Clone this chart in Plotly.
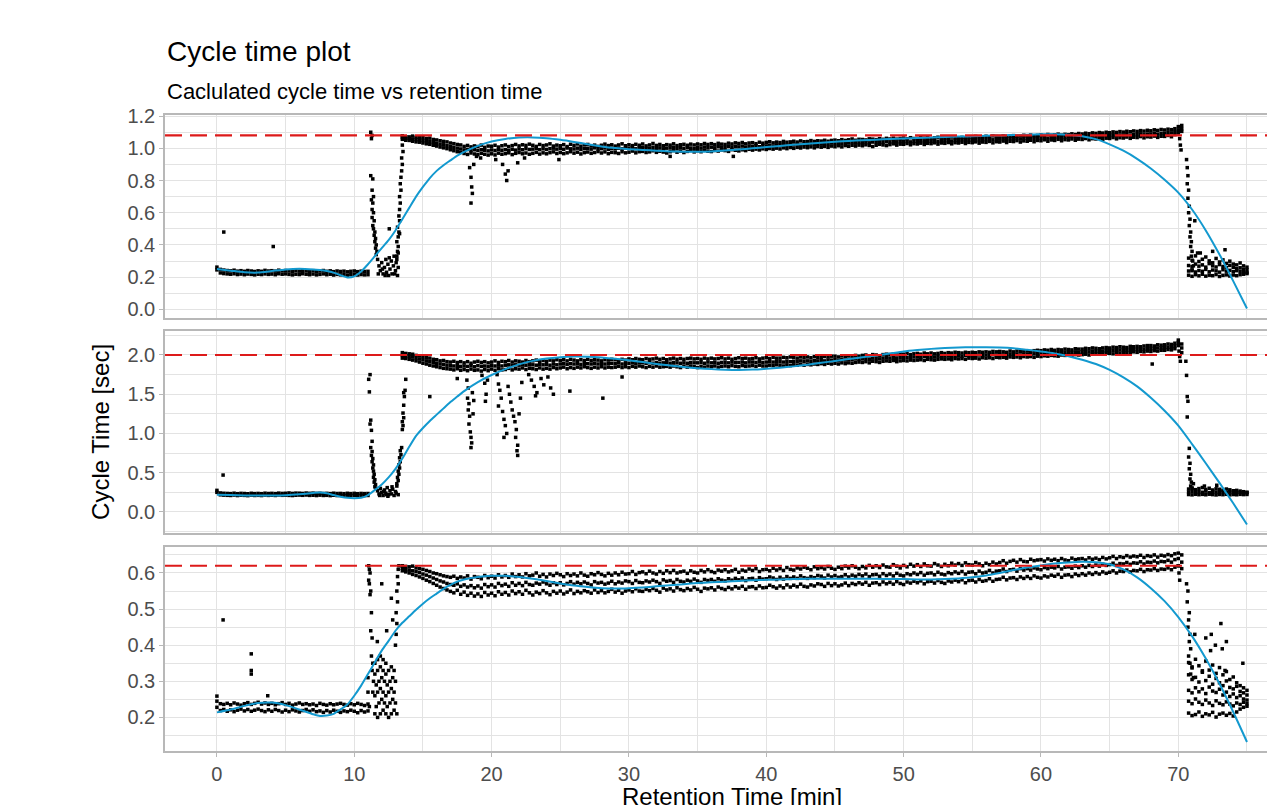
import plotly.graph_objects as go

# ---------------- retention-time grids (min) ----------------
rt_base = [0, 0.25, 0.5, 0.75, 1, 1.25, 1.5, 1.75, 2, 2.25, 2.5, 2.75, 3, 3.25, 3.5, 3.75,
           4, 4.25, 4.5, 4.75, 5, 5.25, 5.5, 5.75, 6, 6.25, 6.5, 6.75, 7, 7.25, 7.5, 7.75,
           8, 8.25, 8.5, 8.75, 9, 9.25, 9.5, 9.75, 10, 10.25, 10.5, 10.75, 11]

rt_plateau = [13.5, 13.75,
    14, 14.25, 14.5, 14.75, 15, 15.25, 15.5, 15.75, 16, 16.25, 16.5, 16.75, 17, 17.25, 17.5, 17.75, 18, 18.25, 18.5, 18.75,
    19, 19.25, 19.5, 19.75, 20, 20.25, 20.5, 20.75, 21, 21.25, 21.5, 21.75, 22, 22.25, 22.5, 22.75, 23, 23.25, 23.5, 23.75,
    24, 24.25, 24.5, 24.75, 25, 25.25, 25.5, 25.75, 26, 26.25, 26.5, 26.75, 27, 27.25, 27.5, 27.75, 28, 28.25, 28.5, 28.75,
    29, 29.25, 29.5, 29.75, 30, 30.25, 30.5, 30.75, 31, 31.25, 31.5, 31.75, 32, 32.25, 32.5, 32.75, 33, 33.25, 33.5, 33.75,
    34, 34.25, 34.5, 34.75, 35, 35.25, 35.5, 35.75, 36, 36.25, 36.5, 36.75, 37, 37.25, 37.5, 37.75, 38, 38.25, 38.5, 38.75,
    39, 39.25, 39.5, 39.75, 40, 40.25, 40.5, 40.75, 41, 41.25, 41.5, 41.75, 42, 42.25, 42.5, 42.75, 43, 43.25, 43.5, 43.75,
    44, 44.25, 44.5, 44.75, 45, 45.25, 45.5, 45.75, 46, 46.25, 46.5, 46.75, 47, 47.25, 47.5, 47.75, 48, 48.25, 48.5, 48.75,
    49, 49.25, 49.5, 49.75, 50, 50.25, 50.5, 50.75, 51, 51.25, 51.5, 51.75, 52, 52.25, 52.5, 52.75, 53, 53.25, 53.5, 53.75,
    54, 54.25, 54.5, 54.75, 55, 55.25, 55.5, 55.75, 56, 56.25, 56.5, 56.75, 57, 57.25, 57.5, 57.75, 58, 58.25, 58.5, 58.75,
    59, 59.25, 59.5, 59.75, 60, 60.25, 60.5, 60.75, 61, 61.25, 61.5, 61.75, 62, 62.25, 62.5, 62.75, 63, 63.25, 63.5, 63.75,
    64, 64.25, 64.5, 64.75, 65, 65.25, 65.5, 65.75, 66, 66.25, 66.5, 66.75, 67, 67.25, 67.5, 67.75, 68, 68.25, 68.5, 68.75,
    69, 69.25, 69.5, 69.75, 70, 70.25]

rt_tail = [70.75, 71, 71.25, 71.5, 71.75, 72, 72.25, 72.5, 72.75, 73, 73.25, 73.5, 73.75, 74, 74.25, 74.5, 74.75, 75]

# ---------------- panel 1 cycle times (sec) ----------------
p1_base_hi = [0.262, 0.248, 0.244, 0.241, 0.239, 0.243, 0.237, 0.240, 0.236, 0.241, 0.238, 0.235,
              0.239, 0.236, 0.242, 0.238, 0.240, 0.237, 0.243, 0.239, 0.241, 0.238, 0.236, 0.240,
              0.237, 0.242, 0.239, 0.236, 0.240, 0.235, 0.238, 0.241, 0.236, 0.239, 0.234, 0.238,
              0.235, 0.237, 0.233, 0.236, 0.238, 0.234, 0.237, 0.235, 0.236]
p1_base_lo = [0.245, 0.226, 0.222, 0.220, 0.218, 0.221, 0.216, 0.219, 0.215, 0.219, 0.217, 0.214,
              0.218, 0.216, 0.220, 0.217, 0.219, 0.215, 0.221, 0.218, 0.220, 0.217, 0.214, 0.218,
              0.216, 0.221, 0.218, 0.215, 0.219, 0.214, 0.217, 0.220, 0.215, 0.218, 0.213, 0.217,
              0.214, 0.216, 0.212, 0.215, 0.217, 0.213, 0.216, 0.214, 0.215]
p1_plat_hi = [1.078, 1.072,
    1.071, 1.076, 1.068, 1.070, 1.066, 1.061, 1.063, 1.055, 1.052, 1.047, 1.043, 1.040, 1.033, 1.029, 1.024, 1.021, 1.012, 1.018, 1.009, 1.015,
    1.011, 1.020, 1.006, 1.014, 1.013, 1.019, 1.008, 1.016, 1.021, 1.011, 1.017, 1.024, 1.015, 1.022, 1.018, 1.026, 1.019, 1.012, 1.024, 1.017,
    1.021, 1.028, 1.014, 1.020, 1.016, 1.023, 1.011, 1.025, 1.018, 1.027, 1.013, 1.021, 1.024, 1.015, 1.020, 1.012, 1.019, 1.026, 1.017, 1.022,
    1.014, 1.021, 1.028, 1.016, 1.022, 1.017, 1.025, 1.019, 1.027, 1.015, 1.021, 1.030, 1.018, 1.024, 1.016, 1.023, 1.020, 1.028, 1.017, 1.022,
    1.025, 1.019, 1.026, 1.021, 1.027, 1.022, 1.030, 1.024, 1.029, 1.023, 1.031, 1.026, 1.024, 1.032, 1.027, 1.034, 1.030, 1.036, 1.028, 1.033,
    1.035, 1.029, 1.038, 1.032, 1.037, 1.041, 1.034, 1.039, 1.036, 1.043, 1.038, 1.040, 1.044, 1.039, 1.046, 1.041, 1.042, 1.048, 1.043, 1.047,
    1.045, 1.050, 1.044, 1.049, 1.051, 1.047, 1.054, 1.049, 1.053, 1.058, 1.050, 1.056, 1.055, 1.052, 1.059, 1.057, 1.054, 1.060, 1.056, 1.062,
    1.058, 1.063, 1.057, 1.061, 1.064, 1.059, 1.066, 1.061, 1.062, 1.068, 1.063, 1.066, 1.060, 1.065, 1.069, 1.064, 1.067, 1.062, 1.070, 1.065,
    1.063, 1.068, 1.066, 1.071, 1.069, 1.074, 1.067, 1.072, 1.075, 1.070, 1.077, 1.073, 1.071, 1.078, 1.074, 1.076, 1.079, 1.073, 1.077, 1.081,
    1.076, 1.082, 1.078, 1.080, 1.083, 1.079, 1.086, 1.081, 1.084, 1.088, 1.082, 1.087, 1.085, 1.090, 1.086, 1.092, 1.089, 1.094, 1.091, 1.096,
    1.093, 1.098, 1.095, 1.100, 1.097, 1.102, 1.099, 1.104, 1.101, 1.106, 1.103, 1.108, 1.105, 1.110, 1.107, 1.112, 1.109, 1.115, 1.111, 1.117,
    1.114, 1.119, 1.116, 1.122, 1.135, 1.142]
p1_plat_mid = [1.067, 1.061,
    1.060, 1.057, 1.054, 1.053, 1.049, 1.045, 1.041, 1.036, 1.031, 1.026, 1.022, 1.016, 1.011, 1.006, 1.001, 0.996, 0.990, 0.993, 0.987, 0.991,
    0.986, 0.992, 0.988, 0.984, 0.990, 0.986, 0.993, 0.988, 0.992, 0.987, 0.994, 0.989, 0.996, 0.991, 0.998, 0.993, 0.995, 0.999, 0.992, 0.997,
    0.993, 0.998, 1.001, 0.995, 0.999, 0.994, 1.002, 0.997, 0.996, 1.001, 0.993, 0.998, 1.000, 0.995, 1.003, 0.997, 0.998, 1.002, 0.994, 1.000,
    0.996, 1.001, 0.997, 1.003, 1.000, 1.004, 0.997, 1.002, 1.004, 0.998, 1.001, 1.006, 0.999, 1.003, 0.997, 1.001, 1.002, 1.006, 0.999, 1.004,
    1.000, 1.005, 1.002, 0.998, 1.006, 1.001, 1.008, 1.004, 1.007, 1.003, 1.010, 1.006, 1.005, 1.011, 1.008, 1.012, 1.009, 1.014, 1.007, 1.013,
    1.012, 1.016, 1.010, 1.018, 1.015, 1.019, 1.014, 1.021, 1.018, 1.023, 1.017, 1.022, 1.021, 1.026, 1.020, 1.025, 1.024, 1.028, 1.022, 1.029,
    1.026, 1.031, 1.025, 1.033, 1.030, 1.034, 1.028, 1.036, 1.033, 1.038, 1.032, 1.037, 1.035, 1.040, 1.034, 1.039, 1.037, 1.042, 1.036, 1.041,
    1.039, 1.044, 1.038, 1.043, 1.041, 1.046, 1.040, 1.045, 1.043, 1.048, 1.042, 1.047, 1.045, 1.050, 1.044, 1.049, 1.047, 1.052, 1.046, 1.051,
    1.049, 1.054, 1.048, 1.053, 1.052, 1.057, 1.050, 1.056, 1.054, 1.059, 1.053, 1.058, 1.057, 1.062, 1.055, 1.060, 1.060, 1.064, 1.058, 1.063,
    1.062, 1.067, 1.061, 1.066, 1.065, 1.070, 1.063, 1.068, 1.067, 1.072, 1.066, 1.071, 1.070, 1.075, 1.069, 1.074, 1.073, 1.078, 1.072, 1.077,
    1.076, 1.081, 1.075, 1.080, 1.079, 1.084, 1.078, 1.083, 1.082, 1.087, 1.081, 1.086, 1.085, 1.090, 1.084, 1.089, 1.089, 1.094, 1.088, 1.093,
    1.093, 1.098, 1.096, 1.104, 1.115, 1.122]
p1_plat_lo = [1.056, 1.050,
    1.049, 1.044, 1.040, 1.038, 1.033, 1.028, 1.025, 1.019, 1.014, 1.008, 1.003, 0.998, 0.991, 0.985, 0.979, 0.975, 0.968, 0.962, 0.971, 0.965,
    0.960, 0.969, 0.963, 0.958, 0.966, 0.959, 0.970, 0.963, 0.967, 0.972, 0.961, 0.969, 0.974, 0.966, 0.971, 0.963, 0.969, 0.975, 0.964, 0.972,
    0.966, 0.973, 0.978, 0.968, 0.974, 0.967, 0.972, 0.979, 0.970, 0.976, 0.965, 0.973, 0.977, 0.969, 0.974, 0.980, 0.971, 0.978, 0.967, 0.975,
    0.973, 0.968, 0.979, 0.972, 0.976, 0.983, 0.972, 0.979, 0.981, 0.974, 0.978, 0.985, 0.975, 0.982, 0.977, 0.971, 0.979, 0.986, 0.976, 0.983,
    0.974, 0.981, 0.987, 0.978, 0.985, 0.979, 0.988, 0.982, 0.980, 0.987, 0.983, 0.990, 0.986, 0.981, 0.992, 0.988, 0.984, 0.991, 0.986, 0.994,
    0.989, 0.995, 0.990, 0.997, 0.993, 0.999, 0.995, 1.001, 0.996, 1.003, 0.998, 1.005, 1.000, 1.006, 1.002, 1.008, 1.004, 1.009, 1.003, 1.011,
    1.007, 1.012, 1.006, 1.014, 1.010, 1.016, 1.009, 1.017, 1.013, 1.019, 1.014, 1.020, 1.016, 1.022, 1.018, 1.011, 1.019, 1.025, 1.021, 1.017,
    1.023, 1.028, 1.020, 1.026, 1.025, 1.030, 1.022, 1.029, 1.027, 1.032, 1.024, 1.031, 1.029, 1.034, 1.026, 1.033, 1.031, 1.036, 1.028, 1.035,
    1.033, 1.038, 1.030, 1.037, 1.035, 1.040, 1.032, 1.039, 1.037, 1.043, 1.034, 1.041, 1.039, 1.045, 1.036, 1.044, 1.042, 1.048, 1.039, 1.046,
    1.044, 1.050, 1.041, 1.049, 1.047, 1.053, 1.044, 1.052, 1.049, 1.056, 1.047, 1.054, 1.052, 1.058, 1.050, 1.057, 1.055, 1.061, 1.053, 1.060,
    1.058, 1.064, 1.056, 1.063, 1.061, 1.067, 1.059, 1.066, 1.064, 1.070, 1.062, 1.069, 1.067, 1.073, 1.065, 1.072, 1.070, 1.076, 1.068, 1.075,
    1.074, 1.080, 1.072, 1.085, 1.095, 1.105]
p1_tail_a = [0.212, 0.205, 0.215, 0.208, 0.218, 0.206, 0.212, 0.209, 0.216, 0.204, 0.211, 0.214, 0.207, 0.213, 0.209, 0.215, 0.218, 0.222]
p1_tail_b = [0.238, 0.245, 0.232, 0.241, 0.236, 0.248, 0.233, 0.244, 0.239, 0.231, 0.246, 0.237, 0.242, 0.234, 0.240, 0.236, 0.232, 0.228]
p1_tail_c = [0.272, 0.265, 0.281, 0.268, 0.276, 0.262, 0.284, 0.270, 0.263, 0.278, 0.266, 0.259, 0.273, 0.261, 0.252, 0.258, 0.249, 0.245]
p1_tail_d = [0.318, 0.305, 0.332, 0.297, 0.311, 0.325, 0.301, 0.289, 0.316, 0.294, 0.307, 0.285, 0.299, 0.281, 0.276, 0.288, 0.270, 0.262]
p1_extra_rt = [0.5, 4.1,
    11.2, 11.25, 11.3, 11.2, 11.35, 11.3, 11.4, 11.25, 11.35, 11.3, 11.4, 11.3, 11.45, 11.35, 11.4, 11.5, 11.45, 11.55, 11.5, 11.6, 11.55, 11.65, 11.6,
    11.7, 11.8, 11.9, 12.0, 12.1, 12.2, 12.3, 12.35, 12.45, 12.5, 12.6, 12.7, 12.75, 12.85, 12.9, 13.0, 13.05, 13.15, 13.2, 11.75, 12.05, 12.25, 12.55, 12.95, 13.1, 12.55,
    13.1, 13.15, 13.2, 13.1, 13.2, 13.25, 13.15, 13.3, 13.25, 13.3, 13.35, 13.3, 13.4, 13.35, 13.4, 13.45, 13.5, 13.45, 13.55, 13.5, 13.3, 13.2,
    18.4, 18.5, 18.55, 18.6, 18.5, 18.7, 20.8, 21.0, 21.1, 21.2, 21.9, 20.3, 19.2, 24.9, 33.0, 37.6, 18.9, 22.4,
    70.0, 70.1, 70.15, 70.2, 70.6, 70.65, 70.7, 70.65, 70.75, 70.7, 70.8, 70.75, 70.85, 70.8, 70.9, 70.85, 70.95, 70.9, 71.0, 70.95, 71.05, 71.1, 71.0, 71.2, 71.4, 71.6, 72.5, 73.4]
p1_extra_ct = [0.48, 0.39,
    1.10, 1.06, 1.08, 0.83, 0.81, 0.74, 0.70, 0.68, 0.66, 0.62, 0.60, 0.57, 0.55, 0.52, 0.50, 0.48, 0.46, 0.44, 0.42, 0.40, 0.38, 0.36, 0.34,
    0.31, 0.27, 0.24, 0.29, 0.22, 0.26, 0.31, 0.23, 0.28, 0.21, 0.25, 0.30, 0.22, 0.27, 0.33, 0.24, 0.29, 0.21, 0.26, 0.22, 0.25, 0.21, 0.32, 0.22, 0.31, 0.50,
    0.33, 0.36, 0.39, 0.42, 0.45, 0.48, 0.51, 0.55, 0.58, 0.62, 0.66, 0.70, 0.74, 0.78, 0.82, 0.86, 0.90, 0.94, 0.98, 1.02, 0.47, 0.35,
    0.88, 0.82, 0.76, 0.72, 0.66, 0.90, 0.90, 0.84, 0.80, 0.86, 0.91, 0.93, 0.94, 0.93, 0.95, 0.95, 0.95, 0.94,
    1.10, 1.06, 1.02, 0.99, 0.93, 0.88, 0.83, 0.78, 0.74, 0.69, 0.64, 0.60, 0.56, 0.52, 0.48, 0.45, 0.42, 0.39, 0.36, 0.33, 0.30, 0.27, 0.24, 0.55, 0.35, 0.35, 0.36, 0.37]

# ---------------- panel 2 ----------------
p2_base_hi = [0.275, 0.242, 0.238, 0.236, 0.234, 0.239, 0.233, 0.237, 0.235, 0.232, 0.238, 0.234,
              0.236, 0.233, 0.239, 0.235, 0.237, 0.234, 0.240, 0.236, 0.238, 0.242, 0.236, 0.240,
              0.239, 0.236, 0.241, 0.237, 0.240, 0.236, 0.238, 0.235, 0.237, 0.234, 0.239, 0.235,
              0.236, 0.233, 0.238, 0.234, 0.237, 0.233, 0.236, 0.234, 0.235]
p2_base_lo = [0.250, 0.218, 0.214, 0.212, 0.210, 0.215, 0.209, 0.213, 0.211, 0.208, 0.214, 0.210,
              0.212, 0.209, 0.215, 0.211, 0.213, 0.210, 0.216, 0.212, 0.214, 0.211, 0.209, 0.213,
              0.215, 0.212, 0.216, 0.211, 0.213, 0.209, 0.214, 0.210, 0.212, 0.208, 0.213, 0.209,
              0.211, 0.207, 0.212, 0.209, 0.212, 0.208, 0.211, 0.209, 0.210]
p2_plat_hi = [2.03, 2.02,
    2.015, 2.01, 1.995, 1.99, 1.98, 1.965, 1.96, 1.945, 1.94, 1.925, 1.93, 1.915, 1.91, 1.92, 1.905, 1.915, 1.90, 1.915, 1.895, 1.91,
    1.92, 1.905, 1.915, 1.90, 1.91, 1.925, 1.905, 1.92, 1.915, 1.93, 1.91, 1.925, 1.92, 1.91, 1.93, 1.915, 1.925, 1.935, 1.915, 1.93,
    1.92, 1.935, 1.925, 1.94, 1.93, 1.94, 1.925, 1.945, 1.935, 1.925, 1.94, 1.93, 1.945, 1.93, 1.94, 1.935, 1.925, 1.94, 1.935, 1.945,
    1.94, 1.93, 1.945, 1.935, 1.95, 1.94, 1.955, 1.945, 1.94, 1.955, 1.945, 1.95, 1.96, 1.945, 1.955, 1.94, 1.95, 1.96, 1.945, 1.955,
    1.945, 1.955, 1.96, 1.95, 1.955, 1.945, 1.96, 1.95, 1.96, 1.95, 1.955, 1.965, 1.95, 1.96, 1.945, 1.955, 1.965, 1.955, 1.96, 1.95,
    1.955, 1.965, 1.95, 1.96, 1.965, 1.955, 1.97, 1.96, 1.96, 1.97, 1.965, 1.975, 1.97, 1.96, 1.975, 1.965, 1.975, 1.965, 1.98, 1.97,
    1.97, 1.98, 1.975, 1.985, 1.985, 1.975, 1.99, 1.98, 1.99, 1.98, 1.995, 1.985, 1.995, 2.0, 1.99, 2.005, 2.0, 1.99, 2.005, 2.01,
    2.005, 2.01, 2.0, 2.015, 2.01, 2.02, 2.005, 2.015, 2.02, 2.01, 2.025, 2.015, 2.025, 2.015, 2.02, 2.03, 2.02, 2.03, 2.025, 2.035,
    2.03, 2.025, 2.035, 2.03, 2.035, 2.03, 2.04, 2.035, 2.04, 2.035, 2.045, 2.04, 2.045, 2.04, 2.035, 2.05, 2.04, 2.05, 2.045, 2.055,
    2.05, 2.045, 2.055, 2.06, 2.055, 2.065, 2.06, 2.07, 2.06, 2.07, 2.065, 2.075, 2.07, 2.065, 2.08, 2.075, 2.075, 2.085, 2.08, 2.09,
    2.085, 2.08, 2.09, 2.095, 2.09, 2.1, 2.095, 2.105, 2.1, 2.095, 2.11, 2.105, 2.11, 2.105, 2.115, 2.12, 2.12, 2.115, 2.13, 2.125,
    2.13, 2.14, 2.135, 2.15, 2.19, 2.14]
p2_plat_mid = [1.995, 1.99,
    1.98, 1.975, 1.96, 1.95, 1.94, 1.925, 1.915, 1.905, 1.895, 1.885, 1.88, 1.87, 1.865, 1.86, 1.865, 1.855, 1.86, 1.855, 1.865, 1.85,
    1.865, 1.855, 1.86, 1.85, 1.865, 1.86, 1.87, 1.86, 1.87, 1.875, 1.865, 1.875, 1.87, 1.88, 1.87, 1.875, 1.875, 1.87, 1.88, 1.875,
    1.88, 1.87, 1.885, 1.875, 1.885, 1.89, 1.88, 1.89, 1.885, 1.89, 1.88, 1.895, 1.89, 1.885, 1.895, 1.885, 1.895, 1.885, 1.89, 1.895,
    1.89, 1.9, 1.885, 1.895, 1.895, 1.9, 1.89, 1.905, 1.9, 1.895, 1.905, 1.895, 1.905, 1.895, 1.9, 1.905, 1.895, 1.905, 1.9, 1.895,
    1.9, 1.895, 1.905, 1.9, 1.9, 1.905, 1.895, 1.91, 1.9, 1.905, 1.895, 1.905, 1.905, 1.9, 1.91, 1.905, 1.905, 1.91, 1.9, 1.91,
    1.91, 1.905, 1.915, 1.905, 1.91, 1.915, 1.91, 1.92, 1.915, 1.91, 1.92, 1.915, 1.92, 1.915, 1.925, 1.92, 1.925, 1.92, 1.93, 1.925,
    1.93, 1.925, 1.935, 1.935, 1.94, 1.93, 1.945, 1.935, 1.945, 1.94, 1.95, 1.945, 1.95, 1.955, 1.945, 1.96, 1.955, 1.95, 1.96, 1.965,
    1.96, 1.965, 1.955, 1.97, 1.97, 1.97, 1.965, 1.975, 1.975, 1.97, 1.98, 1.975, 1.98, 1.975, 1.985, 1.985, 1.985, 1.99, 1.98, 1.99,
    1.99, 1.985, 1.995, 1.99, 1.995, 1.99, 2.0, 1.995, 2.0, 1.995, 2.005, 2.0, 2.005, 2.0, 1.995, 2.01, 2.005, 2.01, 2.0, 2.015,
    2.01, 2.005, 2.015, 2.02, 2.015, 2.025, 2.02, 2.03, 2.025, 2.03, 2.03, 2.035, 2.035, 2.03, 2.04, 2.035, 2.04, 2.045, 2.04, 2.05,
    2.045, 2.05, 2.05, 2.06, 2.055, 2.06, 2.06, 2.065, 2.065, 2.06, 2.07, 2.07, 2.07, 2.075, 2.075, 2.085, 2.08, 2.085, 2.09, 2.09,
    2.095, 2.1, 2.1, 2.115, 2.16, 2.09]
p2_plat_lo = [1.96, 1.955,
    1.945, 1.935, 1.925, 1.91, 1.895, 1.885, 1.87, 1.86, 1.85, 1.84, 1.83, 1.825, 1.82, 1.81, 1.825, 1.805, 1.815, 1.80, 1.82, 1.805,
    1.81, 1.795, 1.815, 1.80, 1.82, 1.805, 1.825, 1.81, 1.815, 1.83, 1.81, 1.825, 1.82, 1.835, 1.815, 1.83, 1.825, 1.815, 1.835, 1.82,
    1.83, 1.82, 1.84, 1.825, 1.835, 1.845, 1.825, 1.84, 1.83, 1.845, 1.835, 1.85, 1.84, 1.83, 1.845, 1.835, 1.85, 1.835, 1.845, 1.84,
    1.845, 1.855, 1.84, 1.85, 1.84, 1.855, 1.845, 1.86, 1.85, 1.84, 1.855, 1.845, 1.86, 1.845, 1.85, 1.855, 1.845, 1.86, 1.85, 1.84,
    1.855, 1.845, 1.86, 1.85, 1.84, 1.855, 1.845, 1.86, 1.85, 1.86, 1.845, 1.855, 1.86, 1.85, 1.865, 1.855, 1.85, 1.865, 1.855, 1.86,
    1.865, 1.855, 1.87, 1.86, 1.86, 1.87, 1.865, 1.875, 1.87, 1.86, 1.875, 1.865, 1.875, 1.87, 1.88, 1.87, 1.88, 1.875, 1.885, 1.88,
    1.89, 1.88, 1.895, 1.885, 1.895, 1.885, 1.9, 1.89, 1.9, 1.895, 1.905, 1.91, 1.905, 1.915, 1.9, 1.92, 1.915, 1.905, 1.92, 1.925,
    1.92, 1.93, 1.915, 1.925, 1.93, 1.925, 1.935, 1.93, 1.935, 1.94, 1.93, 1.945, 1.94, 1.935, 1.945, 1.95, 1.945, 1.95, 1.94, 1.955,
    1.95, 1.955, 1.945, 1.96, 1.955, 1.96, 1.95, 1.965, 1.96, 1.965, 1.955, 1.97, 1.965, 1.97, 1.96, 1.975, 1.97, 1.975, 1.965, 1.98,
    1.975, 1.98, 1.97, 1.985, 1.98, 1.99, 1.985, 1.995, 1.99, 1.985, 2.0, 1.995, 2.0, 1.995, 2.005, 2.0, 2.005, 2.01, 2.0, 2.015,
    2.01, 2.02, 2.015, 2.025, 2.02, 2.015, 2.03, 2.025, 2.03, 2.025, 2.035, 2.04, 2.035, 2.045, 2.04, 2.05, 2.045, 2.055, 2.05, 2.06,
    2.06, 2.07, 2.065, 2.08, 2.12, 2.03]
p2_tail_a = [0.222, 0.218, 0.225, 0.220, 0.224, 0.219, 0.226, 0.221, 0.217, 0.223, 0.220, 0.225, 0.218, 0.222, 0.219, 0.224, 0.221, 0.223]
p2_tail_b = [0.255, 0.262, 0.248, 0.258, 0.251, 0.265, 0.246, 0.259, 0.253, 0.247, 0.261, 0.250, 0.256, 0.244, 0.252, 0.248, 0.243, 0.245]
p2_tail_c = [0.292, 0.305, 0.284, 0.298, 0.311, 0.287, 0.302, 0.280, 0.295, 0.289, 0.276, 0.292, 0.282, 0.270, 0.275, 0.266, 0.258, 0.252]
p2_extra_rt = [0.45, 15.5,
    11.15, 11.05, 11.1, 11.2, 11.15, 11.25, 11.3, 11.2, 11.3, 11.25, 11.35, 11.3, 11.4, 11.35, 11.4, 11.45, 11.4, 11.5, 11.45, 11.55, 11.5, 11.6,
    11.7, 11.8, 11.9, 12.0, 12.1, 12.2, 12.3, 12.4, 12.5, 12.6, 12.7, 12.8, 12.9, 13.0, 13.1, 13.2, 11.85, 12.15, 12.45, 12.75, 13.05, 12.35,
    13.1, 13.2, 13.15, 13.25, 13.2, 13.3, 13.25, 13.35, 13.3, 13.4, 13.35, 13.45, 13.5, 13.55, 13.5, 13.6, 13.55, 13.6, 13.65, 13.6, 13.7, 13.75,
    18.2, 18.3, 18.25, 18.35, 18.3, 18.4, 18.35, 18.45, 18.5, 18.55, 18.5, 18.6, 18.7, 18.65,
    20.4, 20.5, 20.6, 20.7, 20.5, 20.8, 20.9, 21.0, 21.2, 21.3, 21.4, 21.5, 21.6, 21.7, 21.8, 21.75, 21.9, 21.85, 21.9, 22.0, 22.1, 22.2, 21.1, 20.9,
    22.7, 22.9, 23.1, 23.3, 23.2, 23.6, 23.8, 24.1, 24.3, 24.5,
    25.7, 28.1, 29.5, 19.3, 19.7, 17.5, 19.5, 19.6, 19.55,
    70.05, 70.1, 70.15, 70.55, 70.6, 70.65, 70.7, 70.65, 70.8, 70.75, 70.85, 70.8, 70.9, 70.85, 70.95, 70.9, 71.0, 68.1, 71.1, 71.9, 72.8]
p2_extra_ct = [0.47, 1.47,
    1.75, 1.69, 1.53, 1.17, 1.12, 1.04, 0.90, 0.82, 0.77, 0.72, 0.68, 0.64, 0.60, 0.56, 0.52, 0.48, 0.44, 0.41, 0.38, 0.35, 0.32, 0.30,
    0.27, 0.23, 0.30, 0.25, 0.21, 0.28, 0.24, 0.31, 0.22, 0.27, 0.23, 0.29, 0.21, 0.26, 0.33, 0.22, 0.21, 0.26, 0.20, 0.32, 0.24, 0.22,
    0.36, 0.40, 0.44, 0.48, 0.52, 0.56, 0.60, 0.64, 0.69, 0.73, 0.78, 0.82, 1.05, 1.10, 1.15, 1.20, 1.26, 1.36, 1.47, 1.52, 1.55, 1.69,
    1.68, 1.58, 1.45, 1.38, 1.30, 1.22, 1.12, 1.02, 0.95, 0.88, 0.82, 1.52, 1.42, 1.25,
    1.75, 1.63, 1.55, 1.45, 1.35, 1.28, 1.18, 1.10, 1.60, 1.50, 1.40, 1.30, 1.22, 1.15, 1.05, 0.95, 0.85, 0.78, 0.72, 1.25, 1.45, 1.65, 1.00, 0.95,
    1.75, 1.68, 1.60, 1.52, 1.48, 1.70, 1.62, 1.72, 1.58, 1.50,
    1.54, 1.45, 1.72, 1.74, 1.68, 1.70, 1.64, 1.50, 1.41,
    2.05, 1.98, 1.92, 1.92, 1.74, 1.47, 1.41, 1.21, 0.81, 0.70, 0.62, 0.55, 0.48, 0.42, 0.38, 0.33, 0.30, 1.885, 0.36, 0.33, 0.34]

# ---------------- panel 3 ----------------
p3_base_hi = [0.245, 0.238, 0.236, 0.239, 0.235, 0.240, 0.237, 0.234, 0.238, 0.241, 0.236, 0.239,
              0.242, 0.237, 0.240, 0.236, 0.239, 0.235, 0.238, 0.241, 0.236, 0.239, 0.234, 0.237,
              0.240, 0.236, 0.238, 0.235, 0.237, 0.233, 0.239, 0.236, 0.234, 0.238, 0.235, 0.237,
              0.239, 0.236, 0.234, 0.238, 0.235, 0.239, 0.236, 0.233, 0.237]
p3_base_lo = [0.228, 0.219, 0.222, 0.217, 0.221, 0.216, 0.220, 0.223, 0.218, 0.222, 0.217, 0.220,
              0.223, 0.219, 0.216, 0.221, 0.217, 0.222, 0.219, 0.215, 0.220, 0.216, 0.221, 0.218,
              0.215, 0.219, 0.222, 0.217, 0.221, 0.216, 0.218, 0.214, 0.219, 0.215, 0.220, 0.217,
              0.214, 0.218, 0.216, 0.220, 0.217, 0.213, 0.219, 0.215, 0.218]
p3_plat_hi = [0.620, 0.618,
    0.617, 0.619, 0.614, 0.612, 0.610, 0.607, 0.604, 0.600, 0.598, 0.595, 0.592, 0.590, 0.588, 0.591, 0.585, 0.589, 0.586, 0.592, 0.583, 0.590,
    0.588, 0.584, 0.593, 0.587, 0.591, 0.586, 0.595, 0.589, 0.593, 0.588, 0.597, 0.590, 0.595, 0.589, 0.598, 0.592, 0.594, 0.600, 0.591, 0.596,
    0.589, 0.597, 0.593, 0.599, 0.595, 0.590, 0.598, 0.593, 0.597, 0.592, 0.600, 0.594, 0.591, 0.598, 0.595, 0.601, 0.596, 0.592, 0.599, 0.594,
    0.600, 0.595, 0.602, 0.597, 0.598, 0.604, 0.596, 0.601, 0.603, 0.598, 0.605, 0.600, 0.597, 0.604, 0.599, 0.606, 0.601, 0.607, 0.600, 0.603,
    0.605, 0.599, 0.606, 0.602, 0.600, 0.607, 0.603, 0.609, 0.604, 0.601, 0.608, 0.605, 0.609, 0.603, 0.606, 0.610, 0.602, 0.608, 0.605, 0.611,
    0.607, 0.612, 0.604, 0.609, 0.610, 0.606, 0.613, 0.608, 0.612, 0.607, 0.615, 0.610, 0.608, 0.614, 0.611, 0.616, 0.613, 0.609, 0.617, 0.612,
    0.615, 0.611, 0.618, 0.613, 0.610, 0.616, 0.612, 0.619, 0.614, 0.620, 0.616, 0.612, 0.618, 0.614, 0.621, 0.616, 0.620, 0.615, 0.622, 0.617,
    0.616, 0.623, 0.619, 0.614, 0.621, 0.617, 0.624, 0.619, 0.623, 0.618, 0.625, 0.620, 0.619, 0.626, 0.622, 0.618, 0.624, 0.620, 0.627, 0.622,
    0.626, 0.621, 0.628, 0.623, 0.622, 0.629, 0.625, 0.620, 0.627, 0.623, 0.630, 0.625, 0.629, 0.634, 0.627, 0.632, 0.635, 0.630, 0.637, 0.632,
    0.631, 0.638, 0.634, 0.636, 0.637, 0.633, 0.639, 0.635, 0.638, 0.634, 0.640, 0.636, 0.634, 0.641, 0.637, 0.639, 0.640, 0.636, 0.642, 0.638,
    0.641, 0.637, 0.643, 0.639, 0.642, 0.646, 0.640, 0.645, 0.643, 0.648, 0.644, 0.647, 0.645, 0.649, 0.643, 0.648, 0.646, 0.650, 0.644, 0.649,
    0.647, 0.651, 0.648, 0.653, 0.655, 0.650]
p3_plat_mid = [0.613, 0.610,
    0.608, 0.606, 0.604, 0.601, 0.597, 0.594, 0.590, 0.586, 0.582, 0.578, 0.575, 0.571, 0.568, 0.566, 0.570, 0.563, 0.567, 0.561, 0.565, 0.559,
    0.564, 0.558, 0.568, 0.562, 0.567, 0.561, 0.571, 0.565, 0.569, 0.563, 0.573, 0.566, 0.571, 0.565, 0.574, 0.568, 0.566, 0.572, 0.569, 0.575,
    0.570, 0.566, 0.573, 0.568, 0.573, 0.567, 0.571, 0.576, 0.569, 0.574, 0.570, 0.575, 0.571, 0.567, 0.576, 0.572, 0.574, 0.569, 0.572, 0.577,
    0.570, 0.575, 0.572, 0.578, 0.576, 0.571, 0.579, 0.574, 0.573, 0.578, 0.575, 0.580, 0.576, 0.571, 0.581, 0.577, 0.579, 0.574, 0.582, 0.577,
    0.575, 0.580, 0.577, 0.583, 0.578, 0.574, 0.582, 0.579, 0.582, 0.577, 0.584, 0.580, 0.578, 0.584, 0.580, 0.585, 0.581, 0.586, 0.579, 0.584,
    0.585, 0.580, 0.587, 0.583, 0.584, 0.589, 0.586, 0.582, 0.588, 0.583, 0.590, 0.585, 0.589, 0.585, 0.592, 0.587, 0.585, 0.590, 0.587, 0.593,
    0.591, 0.586, 0.594, 0.589, 0.593, 0.588, 0.590, 0.595, 0.589, 0.594, 0.591, 0.596, 0.592, 0.597, 0.590, 0.595, 0.596, 0.591, 0.598, 0.593,
    0.597, 0.592, 0.599, 0.594, 0.592, 0.598, 0.595, 0.600, 0.596, 0.601, 0.594, 0.599, 0.600, 0.595, 0.602, 0.597, 0.595, 0.601, 0.598, 0.603,
    0.599, 0.604, 0.597, 0.602, 0.603, 0.598, 0.605, 0.600, 0.602, 0.607, 0.600, 0.605, 0.606, 0.611, 0.604, 0.609, 0.610, 0.605, 0.612, 0.608,
    0.612, 0.608, 0.614, 0.611, 0.609, 0.615, 0.612, 0.616, 0.614, 0.618, 0.611, 0.616, 0.617, 0.613, 0.619, 0.615, 0.620, 0.616, 0.621, 0.618,
    0.622, 0.619, 0.624, 0.621, 0.623, 0.627, 0.621, 0.626, 0.625, 0.629, 0.624, 0.628, 0.627, 0.631, 0.625, 0.630, 0.629, 0.633, 0.628, 0.632,
    0.631, 0.635, 0.630, 0.637, 0.640, 0.630]
p3_plat_lo = [0.606, 0.603,
    0.600, 0.596, 0.593, 0.589, 0.585, 0.580, 0.576, 0.571, 0.566, 0.561, 0.557, 0.553, 0.549, 0.545, 0.552, 0.541, 0.547, 0.538, 0.544, 0.536,
    0.542, 0.535, 0.546, 0.539, 0.544, 0.537, 0.548, 0.541, 0.546, 0.539, 0.550, 0.543, 0.548, 0.541, 0.552, 0.545, 0.539, 0.547, 0.543, 0.551,
    0.545, 0.540, 0.549, 0.544, 0.550, 0.542, 0.547, 0.553, 0.543, 0.549, 0.545, 0.551, 0.548, 0.544, 0.553, 0.546, 0.551, 0.545, 0.549, 0.555,
    0.547, 0.552, 0.544, 0.550, 0.553, 0.548, 0.556, 0.550, 0.549, 0.555, 0.551, 0.557, 0.552, 0.547, 0.558, 0.553, 0.556, 0.550, 0.559, 0.554,
    0.551, 0.557, 0.553, 0.560, 0.555, 0.549, 0.558, 0.556, 0.559, 0.553, 0.561, 0.557, 0.554, 0.560, 0.556, 0.562, 0.558, 0.563, 0.555, 0.561,
    0.562, 0.557, 0.564, 0.559, 0.560, 0.566, 0.562, 0.558, 0.564, 0.559, 0.567, 0.561, 0.566, 0.562, 0.569, 0.563, 0.561, 0.567, 0.564, 0.570,
    0.568, 0.563, 0.571, 0.565, 0.570, 0.564, 0.567, 0.572, 0.565, 0.571, 0.568, 0.573, 0.569, 0.574, 0.566, 0.572, 0.573, 0.568, 0.575, 0.570,
    0.574, 0.569, 0.576, 0.571, 0.568, 0.575, 0.572, 0.577, 0.573, 0.578, 0.570, 0.576, 0.577, 0.572, 0.579, 0.574, 0.571, 0.578, 0.575, 0.580,
    0.576, 0.581, 0.573, 0.579, 0.580, 0.575, 0.582, 0.577, 0.579, 0.584, 0.577, 0.582, 0.583, 0.588, 0.581, 0.586, 0.587, 0.582, 0.589, 0.585,
    0.590, 0.585, 0.592, 0.588, 0.586, 0.592, 0.589, 0.594, 0.591, 0.596, 0.588, 0.594, 0.595, 0.590, 0.597, 0.593, 0.598, 0.594, 0.600, 0.596,
    0.601, 0.597, 0.603, 0.599, 0.602, 0.606, 0.600, 0.605, 0.604, 0.608, 0.603, 0.607, 0.606, 0.610, 0.604, 0.609, 0.608, 0.612, 0.607, 0.611,
    0.610, 0.614, 0.609, 0.616, 0.620, 0.612]
p3_tail_a = [0.212, 0.205, 0.208, 0.215, 0.203, 0.210, 0.207, 0.214, 0.201, 0.209, 0.212, 0.206, 0.211, 0.204, 0.215, 0.223, 0.228, 0.231]
p3_tail_b = [0.245, 0.238, 0.251, 0.242, 0.236, 0.248, 0.240, 0.233, 0.246, 0.239, 0.235, 0.243, 0.237, 0.232, 0.240, 0.236, 0.242, 0.238]
p3_tail_c = [0.275, 0.268, 0.282, 0.271, 0.279, 0.266, 0.284, 0.273, 0.269, 0.278, 0.262, 0.270, 0.258, 0.265, 0.255, 0.260, 0.251, 0.248]
p3_tail_d = [0.318, 0.305, 0.311, 0.298, 0.325, 0.302, 0.314, 0.292, 0.308, 0.296, 0.288, 0.301, 0.283, 0.279, 0.286, 0.272, 0.268, 0.262]
p3_tail_e = [0.352, 0.337, 0.361, 0.343, 0.329, 0.356, 0.331, 0.345, 0.322, 0.338, 0.318, 0.327, 0.305, 0.312, 0.296, 0.288, 0.282, 0.275]
p3_extra_rt = [0.0, 0.45, 2.5, 2.5, 2.5, 3.7,
    11.05, 11.1, 11.15, 11.1, 11.2, 11.15, 11.25, 11.2, 11.3, 11.25, 11.35, 11.3, 11.4, 11.35, 11.05, 11.0, 11.0, 11.1,
    11.5, 11.7, 11.9, 12.1, 12.3,
    11.5, 11.7, 11.9, 12.1, 12.3, 12.5, 12.7, 12.9,
    11.6, 11.8, 12.0, 12.2, 12.4, 12.6, 12.8, 13.0,
    11.5, 11.7, 11.9, 12.1, 12.3, 12.5, 12.7, 12.9,
    11.6, 11.8, 12.0, 12.2, 12.4, 12.6, 12.8, 13.0,
    11.5, 11.7, 11.9, 12.1, 12.3, 12.5, 12.7, 12.9, 13.1,
    13.0, 13.05, 13.1, 13.05, 13.15, 13.1, 13.2, 13.15, 13.2, 13.25, 12.8, 12.7, 12.36, 12.0, 11.68,
    70.0, 70.05, 70.1, 70.6, 70.7, 70.65, 70.8, 70.75, 70.7, 70.85, 70.8, 70.9, 70.75, 70.85, 71.0, 70.9, 71.1, 71.2, 72.0, 72.4, 73.1, 72.7, 73.4, 73.5, 73.2, 72.35, 74.7]
p3_extra_ct = [0.259, 0.47, 0.376, 0.33, 0.32, 0.26,
    0.62, 0.61, 0.60, 0.57, 0.55, 0.54, 0.49, 0.44, 0.42, 0.37, 0.35, 0.33, 0.30, 0.27, 0.58, 0.31, 0.27, 0.23,
    0.35, 0.36, 0.37, 0.36, 0.35,
    0.32, 0.33, 0.34, 0.33, 0.32, 0.33, 0.34, 0.33,
    0.29, 0.30, 0.31, 0.30, 0.29, 0.30, 0.31, 0.30,
    0.26, 0.27, 0.28, 0.27, 0.26, 0.27, 0.28, 0.27,
    0.23, 0.24, 0.25, 0.24, 0.23, 0.24, 0.25, 0.24,
    0.21, 0.20, 0.21, 0.22, 0.21, 0.20, 0.21, 0.22, 0.21,
    0.40, 0.43, 0.46, 0.49, 0.52, 0.55, 0.57, 0.59, 0.61, 0.62, 0.47, 0.53, 0.44, 0.57, 0.41,
    0.62, 0.60, 0.58, 0.57, 0.55, 0.52, 0.49, 0.47, 0.45, 0.43, 0.41, 0.39, 0.37, 0.35, 0.34, 0.32, 0.31, 0.43, 0.42, 0.43, 0.46, 0.40, 0.33, 0.41, 0.39, 0.385, 0.35]

# ---------------- smoothed fits ----------------
smooth_rt = [0, 1, 2, 3, 4, 5, 6, 7, 7.5, 8, 8.5, 9, 9.5, 10, 10.5, 11, 11.5, 12, 12.5, 13, 13.5, 14, 14.5,
             15, 15.5, 16, 16.5, 17, 17.5, 18, 19, 20, 21, 22, 23, 24, 25, 26, 27, 28, 29, 30, 31, 32, 33, 34,
             35, 36, 37, 38, 39, 40, 41, 42, 43, 44, 45, 46, 47, 48, 49, 50, 51, 52, 53, 54, 55, 56, 57, 58,
             59, 60, 61, 62, 63, 64, 65, 66, 67, 68, 69, 70, 71, 72, 73, 74, 75]
p1_smooth = [0.250, 0.240, 0.230, 0.228, 0.238, 0.248, 0.252, 0.248, 0.244, 0.238, 0.228, 0.212, 0.198, 0.205,
             0.235, 0.28, 0.33, 0.38, 0.43, 0.49, 0.56, 0.63, 0.70, 0.76, 0.815, 0.86, 0.895, 0.925, 0.955, 0.978,
             1.015, 1.042, 1.058, 1.067, 1.068, 1.063, 1.053, 1.04, 1.025, 1.012, 1.002, 0.995, 0.99, 0.985, 0.981,
             0.979, 0.979, 0.981, 0.986, 0.993, 1.0, 1.008, 1.015, 1.022, 1.029, 1.035, 1.041, 1.046, 1.05, 1.054,
             1.058, 1.061, 1.064, 1.067, 1.07, 1.073, 1.075, 1.078, 1.08, 1.082, 1.085, 1.087, 1.088, 1.085, 1.075,
             1.057, 1.025, 0.985, 0.935, 0.875, 0.805, 0.725, 0.62, 0.49, 0.34, 0.175, 0.005]
p2_smooth = [0.22, 0.215, 0.21, 0.21, 0.21, 0.213, 0.225, 0.242, 0.248, 0.238, 0.215, 0.195, 0.18, 0.175, 0.18,
             0.215, 0.28, 0.35, 0.44, 0.55, 0.68, 0.83, 0.97, 1.07, 1.16, 1.24, 1.32, 1.40, 1.47, 1.54, 1.655,
             1.745, 1.82, 1.88, 1.925, 1.955, 1.972, 1.98, 1.977, 1.967, 1.952, 1.932, 1.91, 1.886, 1.865, 1.846,
             1.831, 1.82, 1.813, 1.81, 1.814, 1.824, 1.838, 1.855, 1.876, 1.9, 1.925, 1.948, 1.97, 1.995, 2.02,
             2.045, 2.063, 2.078, 2.088, 2.095, 2.099, 2.099, 2.095, 2.085, 2.066, 2.045, 2.02, 1.985, 1.94, 1.885,
             1.81, 1.715, 1.6, 1.455, 1.29, 1.1, 0.865, 0.62, 0.37, 0.11, -0.16]
p3_smooth = [0.214, 0.222, 0.232, 0.240, 0.241, 0.234, 0.222, 0.209, 0.204, 0.205, 0.21, 0.222, 0.236, 0.26,
             0.288, 0.32, 0.353, 0.385, 0.412, 0.44, 0.462, 0.48, 0.498, 0.515, 0.53, 0.543, 0.556, 0.567, 0.576,
             0.582, 0.589, 0.592, 0.592, 0.589, 0.584, 0.578, 0.571, 0.565, 0.561, 0.558, 0.557, 0.558, 0.56, 0.563,
             0.566, 0.569, 0.572, 0.574, 0.576, 0.578, 0.58, 0.581, 0.582, 0.583, 0.584, 0.584, 0.584, 0.584, 0.584,
             0.584, 0.583, 0.583, 0.582, 0.582, 0.583, 0.585, 0.588, 0.593, 0.6, 0.608, 0.615, 0.621, 0.626, 0.629,
             0.631, 0.63, 0.624, 0.61, 0.588, 0.558, 0.522, 0.478, 0.425, 0.363, 0.293, 0.215, 0.132]

# reference (target) cycle times drawn as dashed lines
target_cycle = [1.08, 2.0, 0.62]

# axis settings
y_ranges = [[-0.054, 1.207], [-0.268, 2.306], [0.107, 0.672]]
y_dticks = [0.2, 0.5, 0.1]
x_range = [-3.78, 77.04]
domains = [[0.6808, 1.0], [0.3428, 0.6604], [0.0, 0.3208]]

# ---------------- figure ----------------
FONT = "Liberation Sans, Arial, Helvetica, sans-serif"
GRID = "#e3e3e3"
BORDER = "#b8b8b8"
POINT_COLOR = "black"
SMOOTH_COLOR = "#1399cf"
TARGET_COLOR = "#dd1a1a"
TICK_SIZE = 20

panels = [
    dict(base=[p1_base_hi, p1_base_lo], plat=[p1_plat_hi, p1_plat_mid, p1_plat_lo],
         tail=[p1_tail_a, p1_tail_b, p1_tail_c, p1_tail_d], extra=(p1_extra_rt, p1_extra_ct), smooth=p1_smooth),
    dict(base=[p2_base_hi, p2_base_lo], plat=[p2_plat_hi, p2_plat_mid, p2_plat_lo],
         tail=[p2_tail_a, p2_tail_b, p2_tail_c], extra=(p2_extra_rt, p2_extra_ct), smooth=p2_smooth),
    dict(base=[p3_base_hi, p3_base_lo], plat=[p3_plat_hi, p3_plat_mid, p3_plat_lo],
         tail=[p3_tail_a, p3_tail_b, p3_tail_c, p3_tail_d, p3_tail_e], extra=(p3_extra_rt, p3_extra_ct), smooth=p3_smooth),
]

fig = go.Figure()
for i, p in enumerate(panels):
    xs, ys = [], []
    for row in p["base"]:
        assert len(row) == len(rt_base)
        xs += rt_base; ys += row
    for row in p["plat"]:
        assert len(row) == len(rt_plateau), (i, len(row))
        xs += rt_plateau; ys += row
    for row in p["tail"]:
        assert len(row) == len(rt_tail)
        xs += rt_tail; ys += row
    ex, ey = p["extra"]
    assert len(ex) == len(ey), (i, len(ex), len(ey))
    xs += ex; ys += ey
    assert len(p["smooth"]) == len(smooth_rt), (i, len(p["smooth"]))
    sfx = "" if i == 0 else str(i + 1)
    fig.add_trace(go.Scatter(x=xs, y=ys, mode="markers", xaxis="x" + sfx, yaxis="y" + sfx,
                             marker=dict(symbol="square", size=3.5, color=POINT_COLOR, line=dict(width=0)),
                             showlegend=False, hoverinfo="skip"))
    fig.add_trace(go.Scatter(x=smooth_rt, y=p["smooth"], mode="lines", xaxis="x" + sfx, yaxis="y" + sfx,
                             line=dict(color=SMOOTH_COLOR, width=2, shape="spline", smoothing=0.6),
                             showlegend=False, hoverinfo="skip"))
    fig.add_shape(type="line", xref="x" + sfx + " domain", yref="y" + sfx, x0=0, x1=1,
                  y0=target_cycle[i], y1=target_cycle[i], layer="above",
                  line=dict(color=TARGET_COLOR, width=2.2, dash="17px,8px"))

# the page body adds an 8 px offset; the figure is sized so the panels land where the reference has them
layout = dict(
    width=1267, height=797,
    margin=dict(l=157, r=0, t=107, b=54, autoexpand=False),
    paper_bgcolor="white", plot_bgcolor="white",
    font=dict(family=FONT, color="#4d4d4d", size=TICK_SIZE),
    showlegend=False,
)
for i in range(3):
    sfx = "" if i == 0 else str(i + 1)
    bottom = (i == 2)
    layout["xaxis" + sfx] = dict(
        domain=[0, 1], anchor="y" + sfx, range=x_range, autorange=False,
        tick0=0, dtick=10, showticklabels=bottom, ticks="outside" if bottom else "",
        ticklen=4, tickwidth=1, tickcolor=BORDER,
        tickfont=dict(size=TICK_SIZE, color="#4d4d4d", family=FONT),
        showgrid=True, gridcolor=GRID, gridwidth=1,
        minor=dict(dtick=5, tick0=0, showgrid=True, gridcolor=GRID, gridwidth=0.8),
        showline=True, linecolor=BORDER, linewidth=1.5, mirror=True,
        zeroline=False, automargin=False,
    )
    layout["yaxis" + sfx] = dict(
        domain=domains[i], anchor="x" + sfx, range=y_ranges[i], autorange=False,
        tick0=0, dtick=y_dticks[i], tickformat=".1f", ticks="outside",
        ticklen=4, tickwidth=1, tickcolor=BORDER,
        tickfont=dict(size=TICK_SIZE, color="#4d4d4d", family=FONT),
        showgrid=True, gridcolor=GRID, gridwidth=1,
        minor=dict(dtick=y_dticks[i] / 2, showgrid=True, gridcolor=GRID, gridwidth=0.8),
        showline=True, linecolor=BORDER, linewidth=1.5, mirror=False,
        zeroline=False, automargin=False,
    )

layout["annotations"] = [
    dict(text="Cycle time plot", xref="paper", yref="paper", x=0, y=1.1006, xanchor="left", yanchor="middle",
         showarrow=False, font=dict(size=28, color="black", family=FONT)),
    dict(text="Caclulated cycle time vs retention time", xref="paper", yref="paper", x=0, y=1.0377,
         xanchor="left", yanchor="middle", showarrow=False, font=dict(size=22, color="black", family=FONT)),
    dict(text="Cycle Time [sec]", xref="paper", yref="paper", x=-0.0577, y=0.5016, textangle=-90,
         xanchor="center", yanchor="middle", showarrow=False, font=dict(size=24, color="black", family=FONT)),
    dict(text="Retention Time [min]", xref="paper", yref="paper", x=0.5108, y=-0.0723,
         xanchor="center", yanchor="middle", showarrow=False, font=dict(size=24, color="black", family=FONT)),
]
fig.update_layout(**layout)
fig.write_html("out.html")
